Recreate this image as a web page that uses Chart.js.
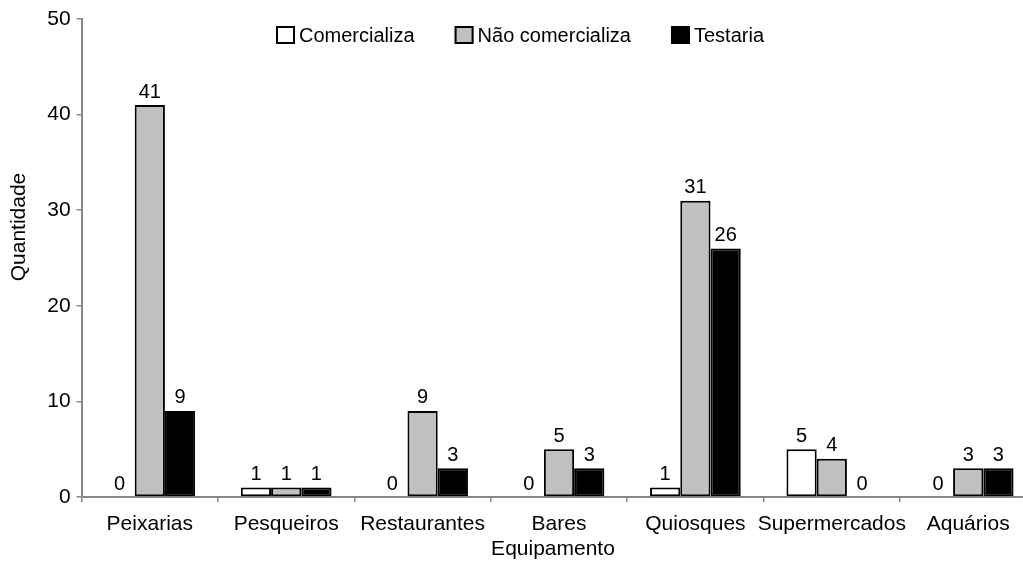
<!DOCTYPE html>
<html lang="pt">
<head>
<meta charset="utf-8">
<title>Quantidade por equipamento</title>
<script src="https://cdn.jsdelivr.net/npm/chart.js@4/dist/chart.umd.min.js"></script>
<style>
  html, body { margin: 0; padding: 0; background: #ffffff; overflow: hidden; }
  #wrap { position: relative; width: 1040px; height: 565px; }
</style>
</head>
<body>
<div id="wrap"><canvas id="chart"></canvas></div>
<script>
// Categorias (equipamentos) e séries
const categories = ['Peixarias', 'Pesqueiros', 'Restaurantes', 'Bares', 'Quiosques', 'Supermercados', 'Aquários'];
const seriesNames = ['Comercializa', 'Não comercializa', 'Testaria'];
const comercializa = [0, 1, 0, 0, 1, 5, 0];
const naoComercializa = [41, 1, 9, 5, 31, 4, 3];
const testaria = [9, 1, 3, 3, 26, 0, 3];
const yTicks = [0, 10, 20, 30, 40, 50];
const xTitle = 'Equipamento';
const yTitle = 'Quantidade';

const FONT = "'Liberation Sans', Arial, Helvetica, sans-serif";
const AXIS_COLOR = '#888888';
const fills = ['#ffffff', '#c0c0c0', '#000000'];

// Rótulos de valor acima de cada barra
const valueLabels = {
  id: 'valueLabels',
  afterDatasetsDraw(chart) {
    const ctx = chart.ctx;
    ctx.save();
    ctx.font = '20px ' + FONT;
    ctx.fillStyle = '#000';
    ctx.textAlign = 'center';
    ctx.textBaseline = 'alphabetic';
    chart.data.datasets.forEach((ds, di) => {
      const meta = chart.getDatasetMeta(di);
      meta.data.forEach((bar, i) => {
        ctx.fillText(String(ds.data[i]), bar.x, bar.y - 7.5);
      });
    });
    ctx.restore();
  }
};

// Legenda e títulos dos eixos
const annotations = {
  id: 'annotations',
  afterDraw(chart) {
    const ctx = chart.ctx;
    ctx.save();
    ctx.fillStyle = '#000';

    // legenda
    ctx.font = '20px ' + FONT;
    const boxW = 19, boxH = 18, gap = 4, spacing = 40;
    const widths = seriesNames.map(n => ctx.measureText(n).width);
    const total = widths.reduce((a, w) => a + boxW + gap + w, 0) + spacing * (seriesNames.length - 1);
    let x = 520 - total / 2;
    const cy = 35;
    seriesNames.forEach((name, i) => {
      ctx.fillStyle = fills[i];
      ctx.fillRect(x, cy - boxH / 2, boxW, boxH);
      ctx.strokeStyle = '#000';
      ctx.lineWidth = 2;
      ctx.strokeRect(x + 1, cy - boxH / 2 + 1, boxW - 2, boxH - 2);
      ctx.fillStyle = '#000';
      ctx.textAlign = 'left';
      ctx.textBaseline = 'middle';
      ctx.fillText(name, x + boxW + gap, cy + 1);
      x += boxW + gap + widths[i] + spacing;
    });

    // títulos dos eixos
    ctx.font = '21px ' + FONT;
    ctx.textAlign = 'center';
    ctx.textBaseline = 'alphabetic';
    ctx.fillText(xTitle, 553, 555);

    ctx.translate(25, 227);
    ctx.rotate(-Math.PI / 2);
    ctx.textBaseline = 'alphabetic';
    ctx.fillText(yTitle, 0, 0);
    ctx.restore();
  }
};

const data = {
  labels: categories,
  datasets: [comercializa, naoComercializa, testaria].map((values, i) => ({
    label: seriesNames[i],
    data: values,
    backgroundColor: fills[i],
    borderColor: '#000000',
    borderWidth: 2,
    borderSkipped: false,
    categoryPercentage: 0.665,
    barPercentage: 1.0
  }))
};

new Chart(document.getElementById('chart'), {
  type: 'bar',
  data,
  plugins: [valueLabels, annotations],
  options: {
    responsive: true,
    maintainAspectRatio: false,
    devicePixelRatio: 1,
    animation: false,
    layout: { padding: { top: 19, right: 3.6, bottom: 0, left: 0 } },
    plugins: {
      legend: { display: false },
      tooltip: { enabled: false }
    },
    scales: {
      x: {
        offset: true,
        grid: {
          offset: true,
          drawOnChartArea: false,
          drawTicks: true,
          tickLength: 5,
          color: AXIS_COLOR,
          lineWidth: 1.5
        },
        border: { display: true, color: AXIS_COLOR, width: 2 },
        ticks: {
          color: '#000',
          font: { family: FONT, size: 21 },
          padding: 10,
          maxRotation: 0,
          autoSkip: false
        },
        afterFit(scale) { scale.height = 68; }
      },
      y: {
        min: 0,
        max: 50,
        afterBuildTicks(scale) { scale.ticks = yTicks.map(v => ({ value: v })); },
        grid: {
          drawOnChartArea: false,
          drawTicks: true,
          tickLength: 5,
          color: AXIS_COLOR,
          lineWidth: 1.5
        },
        border: { display: true, color: AXIS_COLOR, width: 2 },
        ticks: {
          color: '#000',
          font: { family: FONT, size: 21 },
          padding: 6
        },
        afterFit(scale) { scale.width = 81.6; }
      }
    }
  }
});
</script>
</body>
</html>
